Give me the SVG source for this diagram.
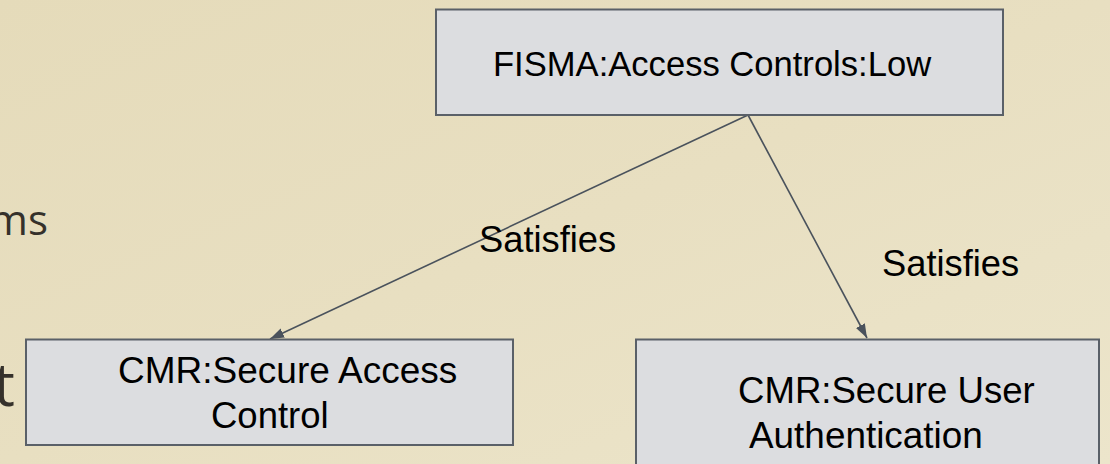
<svg xmlns="http://www.w3.org/2000/svg" width="1110" height="464" viewBox="0 0 1110 464">
  <defs>
    <linearGradient id="paper" x1="0" y1="0" x2="1" y2="1">
      <stop offset="0" stop-color="#e5dbba"/>
      <stop offset="0.5" stop-color="#e8dfc1"/>
      <stop offset="1" stop-color="#ece5cb"/>
    </linearGradient>
    <marker id="arrow" markerUnits="userSpaceOnUse" markerWidth="16" markerHeight="12" refX="14" refY="5" orient="auto">
      <path d="M0,0 L14,5 L0,10 Z" fill="#4a525c"/>
    </marker>
    <style>
      .node rect { fill: #dcdde0; stroke: #5a6068; stroke-width: 2; }
      .label { font-family: "Liberation Sans", Arial, sans-serif; fill: #000; }
      .edge { stroke: #4a525c; stroke-width: 1.6; fill: none; marker-end: url(#arrow); }
      .slide { font-family: "Open Sans", Lato, sans-serif; fill: #35312b; }
    </style>
  </defs>

  <!-- page background -->
  <rect x="0" y="0" width="1110" height="464" fill="url(#paper)"/>

  <!-- slide body text running off the left edge -->
  <text class="slide" x="48" y="235" font-size="42" text-anchor="end">ms</text>
  <text class="slide" x="15" y="406" font-size="60" text-anchor="end">t</text>

  <g id="connectors">
    <line class="edge" x1="748" y1="115" x2="270" y2="339"/>
    <line class="edge" x1="748" y1="115" x2="867" y2="338"/>
    <text class="label" x="479" y="252" font-size="36.3">Satisfies</text>
    <text class="label" x="882" y="276" font-size="36.3">Satisfies</text>
  </g>

  <g id="fisma-access-controls-low" class="node">
    <rect x="436" y="9.5" width="567" height="105.5"/>
    <text class="label" x="493" y="76" font-size="34.6">FISMA:Access Controls:Low</text>
  </g>

  <g id="cmr-secure-access-control" class="node">
    <rect x="26" y="339.5" width="487" height="105.5"/>
    <text class="label" x="118" y="383" font-size="37">CMR:Secure Access</text>
    <text class="label" x="211" y="428" font-size="36.5">Control</text>
  </g>

  <g id="cmr-secure-user-authentication" class="node">
    <rect x="636" y="339.5" width="463" height="140"/>
    <text class="label" x="738" y="403" font-size="36.6">CMR:Secure User</text>
    <text class="label" x="749" y="448" font-size="36.9">Authentication</text>
  </g>
</svg>
